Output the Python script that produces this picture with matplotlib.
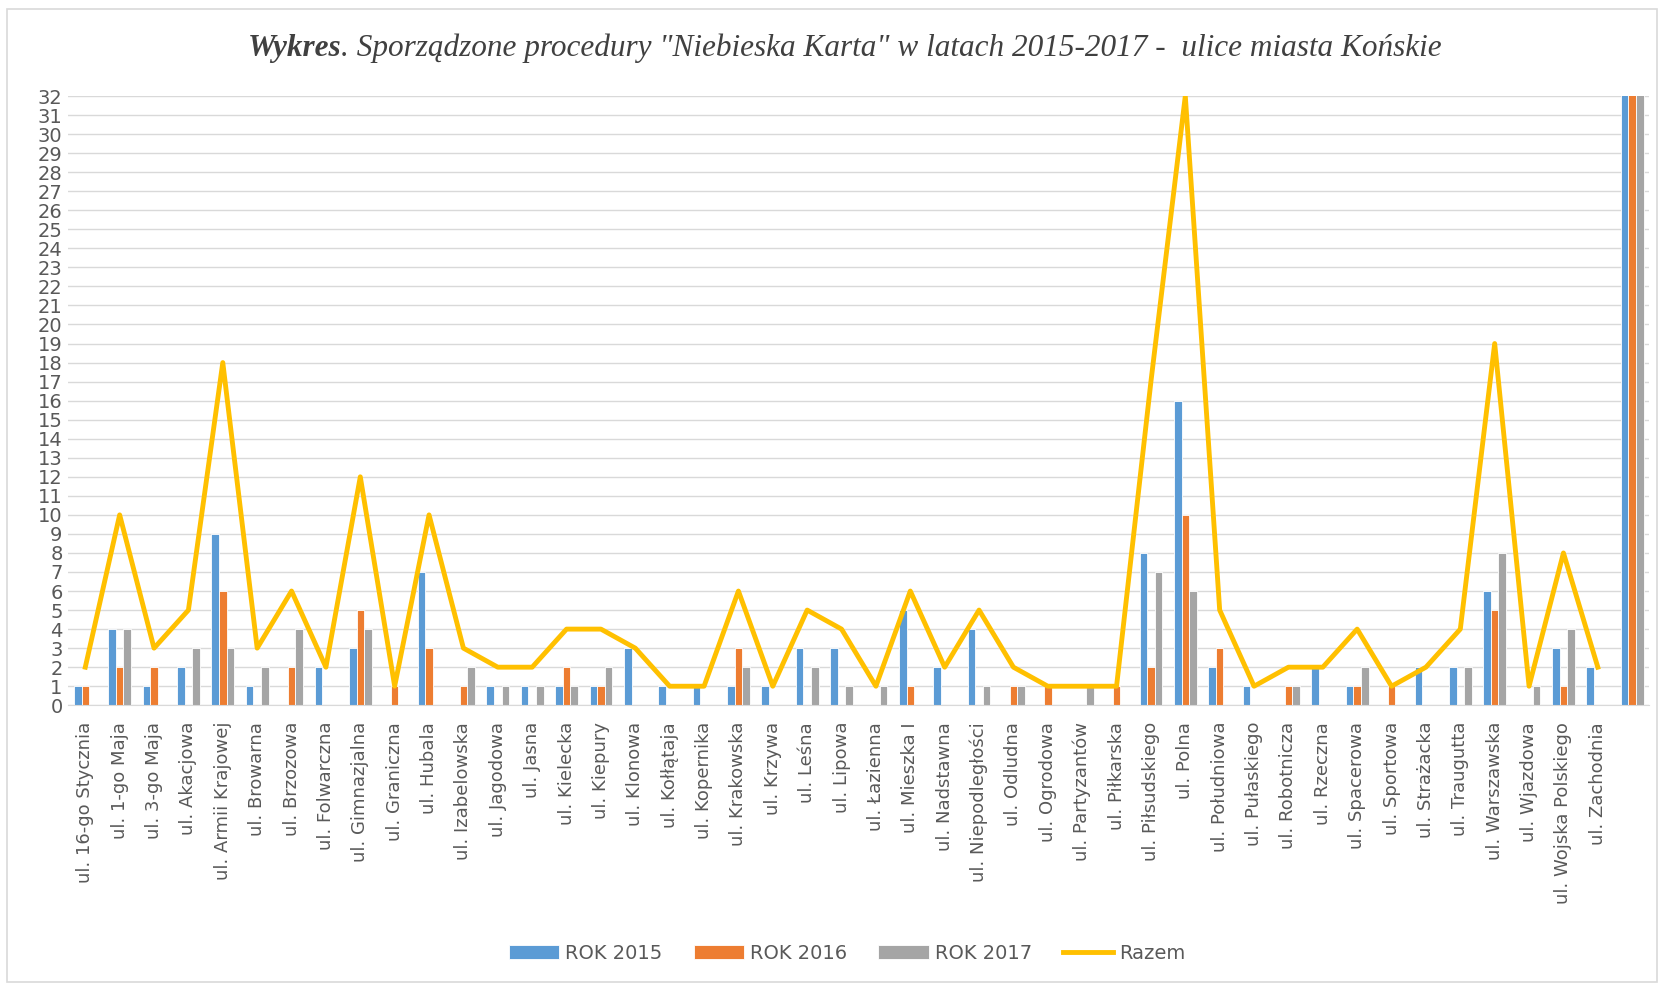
import matplotlib
matplotlib.use("Agg")
import matplotlib.pyplot as plt
from matplotlib.patches import Rectangle
import numpy as np

# dane z wykresu
ulice = ["ul. 16-go Stycznia", "ul. 1-go Maja", "ul. 3-go Maja", "ul. Akacjowa",
         "ul. Armii Krajowej", "ul. Browarna", "ul. Brzozowa", "ul. Folwarczna",
         "ul. Gimnazjalna", "ul. Graniczna", "ul. Hubala", "ul. Izabelowska",
         "ul. Jagodowa", "ul. Jasna", "ul. Kielecka", "ul. Kiepury", "ul. Klonowa",
         "ul. Kołłątaja", "ul. Kopernika", "ul. Krakowska", "ul. Krzywa", "ul. Leśna",
         "ul. Lipowa", "ul. Łazienna", "ul. Mieszka I", "ul. Nadstawna",
         "ul. Niepodległości", "ul. Odludna", "ul. Ogrodowa", "ul. Partyzantów",
         "ul. Piłkarska", "ul. Piłsudskiego", "ul. Polna", "ul. Południowa",
         "ul. Pułaskiego", "ul. Robotnicza", "ul. Rzeczna", "ul. Spacerowa",
         "ul. Sportowa", "ul. Strażacka", "ul. Traugutta", "ul. Warszawska",
         "ul. Wjazdowa", "ul. Wojska Polskiego", "ul. Zachodnia", ""]

rok2015 = [1, 4, 1, 2, 9, 1, 0, 2, 3, 0, 7, 0, 1, 1, 1, 1, 3, 1, 1, 1, 1, 3, 3, 0,
           5, 2, 4, 0, 0, 0, 0, 8, 16, 2, 1, 0, 2, 1, 0, 2, 2, 6, 0, 3, 2, 103]
rok2016 = [1, 2, 2, 0, 6, 0, 2, 0, 5, 1, 3, 1, 0, 0, 2, 1, 0, 0, 0, 3, 0, 0, 0, 0,
           1, 0, 0, 1, 1, 0, 1, 2, 10, 3, 0, 1, 0, 1, 1, 0, 0, 5, 0, 1, 0, 57]
rok2017 = [0, 4, 0, 3, 3, 2, 4, 0, 4, 0, 0, 2, 1, 1, 1, 2, 0, 0, 0, 2, 0, 2, 1, 1,
           0, 0, 1, 1, 0, 1, 0, 7, 6, 0, 0, 1, 0, 2, 0, 0, 2, 8, 1, 4, 0, 67]
razem = [2, 10, 3, 5, 18, 3, 6, 2, 12, 1, 10, 3, 2, 2, 4, 4, 3, 1, 1, 6, 1, 5,
         4, 1, 6, 2, 5, 2, 1, 1, 1, 17, 32, 5, 1, 2, 2, 4, 1, 2, 4, 19, 1, 8, 2, np.nan]

fig = plt.figure(figsize=(16.61, 9.85), dpi=100)
ax = fig.add_axes([0.041, 0.284, 0.952, 0.6185])

x = np.arange(len(ulice))
w = 0.22
b1 = ax.bar(x - w, rok2015, w, color="#5B9BD5", edgecolor="white", linewidth=0.6, label="ROK 2015")
b2 = ax.bar(x, rok2016, w, color="#ED7D31", edgecolor="white", linewidth=0.6, label="ROK 2016")
b3 = ax.bar(x + w, rok2017, w, color="#A5A5A5", edgecolor="white", linewidth=0.6, label="ROK 2017")
l1, = ax.plot(x, razem, color="#FFC000", lw=3.5, label="Razem")

ax.set_xlim(-0.5, len(ulice) - 0.5)
ax.set_ylim(0, 32)
ax.set_yticks(range(33))
ax.set_xticks(x)
ax.set_xticklabels(ulice, rotation=90, fontsize=13, color="#595959")
ax.tick_params(axis="y", labelsize=14, labelcolor="#595959", length=0, pad=4)
ax.tick_params(axis="x", length=0, pad=12)
ax.yaxis.grid(True, color="#D9D9D9", lw=1)
ax.set_axisbelow(True)
for s in ["top", "right", "left"]:
    ax.spines[s].set_visible(False)
ax.spines["bottom"].set_color("#D9D9D9")

# tytul
t1 = fig.text(0.149, 0.951, "Wykres", fontsize=22.5, family="Liberation Serif",
              style="italic", weight="bold", color="#404040", va="center")
fig.canvas.draw()
bb = t1.get_window_extent()
fig.text(bb.x1 / fig.bbox.width, 0.951,
         '. Sporządzone procedury "Niebieska Karta" w latach 2015-2017 -  ulice miasta Końskie',
         fontsize=22.5, family="Liberation Serif", style="italic", color="#404040", va="center")

fig.legend([b1, b2, b3, l1], ["ROK 2015", "ROK 2016", "ROK 2017", "Razem"],
           loc="center", bbox_to_anchor=(0.51, 0.032), ncol=4, frameon=False,
           fontsize=14, handlelength=2.6, handletextpad=0.3, columnspacing=1.6,
           labelcolor="#595959")

fig.patches.append(Rectangle((0.0045, 0.003), 0.993, 0.988, transform=fig.transFigure,
                             fill=False, edgecolor="#D9D9D9", lw=1.2))

fig.savefig("out.png", dpi=100)
